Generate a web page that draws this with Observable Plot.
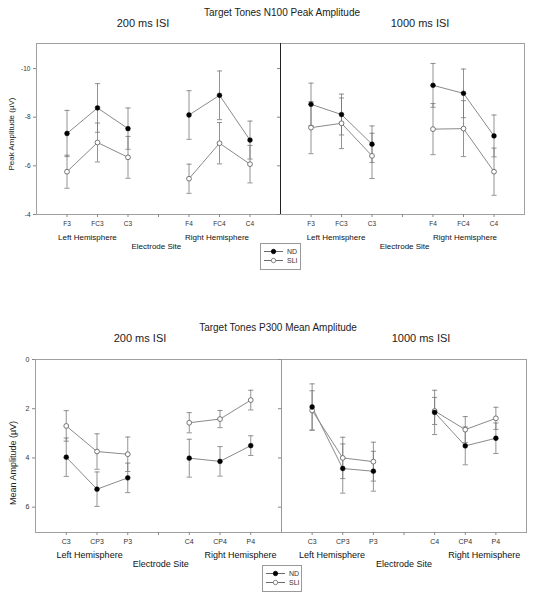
<!DOCTYPE html>
<html>
<head>
<meta charset="utf-8">
<script src="https://cdn.jsdelivr.net/npm/d3@7"></script>
<script src="https://cdn.jsdelivr.net/npm/@observablehq/plot@0.6"></script>
<style>
  html, body { margin: 0; padding: 0; background: #fff; }
  #chart { position: relative; width: 535px; height: 599px; font-family: "Liberation Sans", Arial, sans-serif; color: #222; }
  .abs { position: absolute; white-space: nowrap; }
  .ctr { transform: translate(-50%, -50%); }
  .legend { position: absolute; border: 1px solid #999; background: #fff; box-sizing: border-box; }
  .legend .row { display: flex; align-items: center; height: 9px; font-size: 7px; color: #333; }
</style>
</head>
<body>
<div id="chart"></div>
<script>
// ---------- data ----------
const sitesN100 = ["F3", "FC3", "C3", "F4", "FC4", "C4"];
const sitesP300 = ["C3", "CP3", "P3", "C4", "CP4", "P4"];
const seriesNames = ["ND", "SLI"];
const hemispheres = ["Left Hemisphere", "Right Hemisphere"];
const xTitle = "Electrode Site";
const isiLabels = ["200 ms ISI", "1000 ms ISI"];
const titles = ["Target Tones N100 Peak Amplitude", "Target Tones P300 Mean Amplitude"];
const yTitles = ["Peak Amplitude (\u00b5V)", "Mean Amplitude (\u00b5V)"];
const yTicksN100 = [-10, -8, -6, -4];
const yTicksP300 = [0, 2, 4, 6];

// N100, 200 ms ISI
const n100_200_ND = [-7.33, -8.38, -7.53, -8.09, -8.90, -7.06];
const n100_200_ND_err = [0.95, 1.00, 0.85, 1.00, 1.00, 0.78];
const n100_200_SLI = [-5.76, -6.96, -6.35, -5.47, -6.93, -6.07];
const n100_200_SLI_err = [0.68, 0.80, 0.86, 0.60, 0.85, 0.77];
// N100, 1000 ms ISI
const n100_1000_ND = [-8.53, -8.11, -6.89, -9.31, -8.98, -7.23];
const n100_1000_ND_err = [0.87, 0.84, 0.75, 0.90, 1.00, 0.86];
const n100_1000_SLI = [-7.57, -7.75, -6.41, -7.51, -7.53, -5.76];
const n100_1000_SLI_err = [1.07, 1.04, 0.93, 1.05, 1.15, 0.97];
// P300, 200 ms ISI
const p300_200_ND = [3.97, 5.27, 4.81, 4.01, 4.14, 3.50];
const p300_200_ND_err = [0.78, 0.70, 0.60, 0.77, 0.60, 0.40];
const p300_200_SLI = [2.70, 3.74, 3.85, 2.57, 2.42, 1.65];
const p300_200_SLI_err = [0.62, 0.72, 0.70, 0.41, 0.35, 0.40];
// P300, 1000 ms ISI
const p300_1000_ND = [1.93, 4.43, 4.54, 2.15, 3.51, 3.20];
const p300_1000_ND_err = [0.94, 1.00, 0.81, 0.90, 0.77, 0.62];
const p300_1000_SLI = [2.07, 4.00, 4.15, 2.09, 2.85, 2.39];
const p300_1000_SLI_err = [0.80, 0.84, 0.79, 0.55, 0.53, 0.45];

// ---------- build rows ----------
function rows(sites, nd, ndErr, sli, sliErr) {
  const out = [];
  [[seriesNames[0], nd, ndErr], [seriesNames[1], sli, sliErr]].forEach(([s, m, e]) => {
    sites.forEach((site, i) => {
      out.push({site, pos: i < 3 ? i + 1 : i + 2, group: i < 3 ? "L" : "R", series: s, mean: m[i], err: e[i]});
    });
  });
  return out;
}

const chart = document.getElementById("chart");
function addText(txt, x, y, size, extra = {}) {
  const d = document.createElement("div");
  d.className = "abs ctr";
  d.textContent = txt;
  Object.assign(d.style, {left: x + "px", top: y + "px", fontSize: size + "px"}, extra);
  chart.appendChild(d);
  return d;
}

function panel(o) {
  const data = o.data;
  const posLabel = new Map(data.map(d => [d.pos, d.site]));
  const capW = 0.085;
  const p = Plot.plot({
    width: o.width, height: o.height,
    marginLeft: o.ml, marginRight: o.mr, marginTop: o.mt, marginBottom: o.mb,
    x: {domain: [0, 8], axis: null},
    y: {domain: o.yDomain, axis: null},
    style: {background: "transparent", overflow: "visible", fontFamily: "Liberation Sans, Arial, sans-serif", color: "#333"},
    marks: [
      Plot.frame({stroke: "#a0a0a0"}),
      Plot.axisX({ticks: [1, 2, 3, 4, 5, 6, 7], tickFormat: d => posLabel.get(d) || "", tickSize: 3, tickPadding: 4, fontSize: o.tickFont, label: null, stroke: "#888"}),
      Plot.axisY({ticks: o.yTicks, tickFormat: o.yLabels ? (d => String(d)) : (() => ""), tickSize: 3, tickPadding: 3, fontSize: o.tickFont, label: null, stroke: "#888"}),
      o.divider ? Plot.ruleX([0], {stroke: o.divider, strokeWidth: 1}) : null,
      Plot.ruleX(data, {x: "pos", y1: d => d.mean - d.err, y2: d => d.mean + d.err, stroke: "#777", strokeWidth: 0.8}),
      Plot.link(data, {x1: d => d.pos - capW, x2: d => d.pos + capW, y1: d => d.mean + d.err, y2: d => d.mean + d.err, stroke: "#777", strokeWidth: 0.8}),
      Plot.link(data, {x1: d => d.pos - capW, x2: d => d.pos + capW, y1: d => d.mean - d.err, y2: d => d.mean - d.err, stroke: "#777", strokeWidth: 0.8}),
      Plot.line(data, {x: "pos", y: "mean", z: d => d.series + d.group, stroke: "#8a8a8a", strokeWidth: 1}),
      Plot.dot(data.filter(d => d.series === seriesNames[1]), {x: "pos", y: "mean", r: 2.4, fill: "#fff", stroke: "#666", strokeWidth: 0.9}),
      Plot.dot(data.filter(d => d.series === seriesNames[0]), {x: "pos", y: "mean", r: 2.4, fill: "#000", stroke: "#000", strokeWidth: 0.5}),
      Plot.text([hemispheres[0]], {x: o.hemiX[0], frameAnchor: "bottom", dy: 25, text: d => d, fontSize: o.labFont, fill: "#111"}),
      Plot.text([hemispheres[1]], {x: o.hemiX[1], frameAnchor: "bottom", dy: 25, text: d => d, fontSize: o.labFont, fill: "#111"}),
      Plot.text([xTitle], {x: o.siteX, frameAnchor: "bottom", dy: 34, text: d => d, fontSize: o.labFont, fill: "#111"})
    ]
  });
  Object.assign(p.style, {position: "absolute", left: o.left + "px", top: o.top + "px"});
  chart.appendChild(p);
}

// ---------- top: N100 ----------
panel({data: rows(sitesN100, n100_200_ND, n100_200_ND_err, n100_200_SLI, n100_200_SLI_err),
  left: 0, top: 0, width: 282, height: 264, ml: 36, mr: 2, mt: 43, mb: 50,
  yDomain: [-4, -11.03], yTicks: yTicksN100, yLabels: true, tickFont: 6.5, labFont: 8,
  hemiX: [1.67, 5.92], siteX: 3.93});
panel({data: rows(sitesN100, n100_1000_ND, n100_1000_ND_err, n100_1000_SLI, n100_1000_SLI_err),
  left: 278, top: 0, width: 250, height: 264, ml: 2, mr: 4, mt: 43, mb: 50,
  yDomain: [-4, -11.03], yTicks: yTicksN100, yLabels: false, tickFont: 6.5, labFont: 8, divider: "#222",
  hemiX: [1.82, 6.05], siteX: 4.07});

// ---------- bottom: P300 ----------
panel({data: rows(sitesP300, p300_200_ND, p300_200_ND_err, p300_200_SLI, p300_200_SLI_err),
  left: 0, top: 300, width: 283, height: 282, ml: 35, mr: 2, mt: 59, mb: 50,
  yDomain: [7.03, 0], yTicks: yTicksP300, yLabels: true, tickFont: 7, labFont: 9,
  hemiX: [1.76, 6.67], siteX: 4.07});
panel({data: rows(sitesP300, p300_1000_ND, p300_1000_ND_err, p300_1000_SLI, p300_1000_SLI_err),
  left: 279, top: 300, width: 251, height: 282, ml: 2, mr: 4, mt: 59, mb: 50,
  yDomain: [7.03, 0], yTicks: yTicksP300, yLabels: false, tickFont: 7, labFont: 9, divider: "#999",
  hemiX: [1.65, 6.62], siteX: 4.0});

// ---------- titles ----------
addText(titles[0], 282, 12, 10);
addText(isiLabels[0], 143, 23, 11);
addText(isiLabels[1], 420, 23, 11);
addText(titles[1], 278, 327, 10);
addText(isiLabels[0], 140, 338, 11);
addText(isiLabels[1], 421, 338, 11);
addText(yTitles[0], 11, 134, 8, {transform: "translate(-50%, -50%) rotate(-90deg)"});
addText(yTitles[1], 13, 463, 9, {transform: "translate(-50%, -50%) rotate(-90deg)"});

// ---------- legends ----------
function legend(x, y, w, h) {
  const box = document.createElement("div");
  box.className = "legend";
  Object.assign(box.style, {left: x + "px", top: y + "px", width: w + "px", height: h + "px", padding: "3px 0 0 2px"});
  seriesNames.forEach((s, i) => {
    const row = document.createElement("div");
    row.className = "row";
    row.innerHTML = `<svg width="21" height="9" style="margin-right:3px"><line x1="1" x2="20" y1="4.5" y2="4.5" stroke="#444" stroke-width="0.8"/><circle cx="10.5" cy="4.5" r="2.2" fill="${i === 0 ? "#000" : "#fff"}" stroke="${i === 0 ? "#000" : "#666"}" stroke-width="0.8"/></svg><span>${s}</span>`;
    box.appendChild(row);
  });
  chart.appendChild(box);
}
legend(260, 243, 41, 27);
legend(262, 565, 40, 27);
</script>
</body>
</html>
